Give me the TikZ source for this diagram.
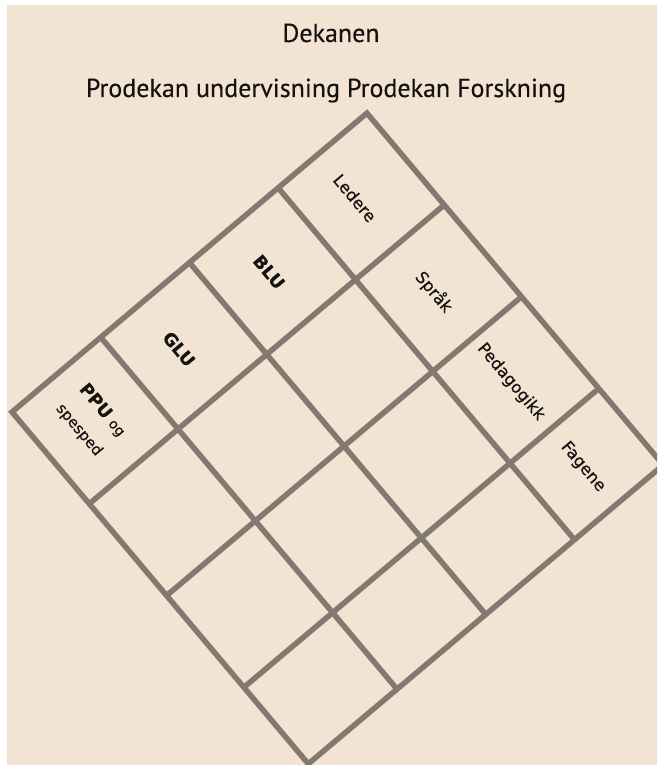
\documentclass[tikz,border=0pt]{standalone}
\usepackage{fontspec}
\setmainfont{PT Sans}[FakeBold=0.25]
\newfontfamily\labfont{DejaVu Sans}[FakeBold=0.3]
\definecolor{bgbeige}{RGB}{243,227,210}
\definecolor{gridgray}{RGB}{130,122,112}
\definecolor{inkblack}{RGB}{20,18,16}
\begin{document}
\begin{tikzpicture}[x=1pt,y=1pt,
  gridline/.style={draw=gridgray, line width=5.5pt},
  title/.style={anchor=base, text=inkblack, font=\fontsize{26}{30}\selectfont, inner sep=0pt},
  cell/.style={rotate=-49.9, text=inkblack, font=\labfont\fontsize{16.5}{19}\selectfont, inner sep=0pt},
  cellbold/.style={cell, font=\labfont\bfseries\fontsize{17.5}{20}\selectfont}]
\useasboundingbox (0,0) rectangle (657,-765);
\fill[white] (0,0) rectangle (657,-765);
\fill[bgbeige] (7,-5) rectangle (657,-765);
\node[title] (dekan) at (331,-42) {Dekanen};
\node[title] (prodekan) at (326,-97) {Prodekan undervisning Prodekan Forskning};
\begin{scope}
  \clip (7,-5) rectangle (657,-765);
  \begin{scope}[shift={(12,-412)}, rotate=-49.9]
    \foreach \k in {120,240,360} {
      \draw[gridline] (\k,0) -- (\k,464);
    }
    \foreach \k in {116,232,348} {
      \draw[gridline] (0,\k) -- (460,\k);
    }
    \draw[gridline, line join=miter] (0,0) rectangle (460,464);
  \end{scope}
\end{scope}
\node[cell] (ledere) at (355,-198) {Ledere};
\node[cell] (sprak) at (434,-292) {Språk};
\node[cell] (pedagogikk) at (511,-382) {Pedagogikk};
\node[cell] (fagene) at (583,-467) {Fagene};
\node[cellbold] (blu) at (269,-272) {BLU};
\node[cellbold] (glu) at (179,-349) {GLU};
\node[cell, align=center] (ppu) at (91,-420)
  {{\bfseries\fontsize{17.5}{20}\selectfont PPU} {\fontsize{14}{16}\selectfont og}\\[11pt]
   {\fontsize{15}{17}\selectfont spesped}};
\end{tikzpicture}
\end{document}
